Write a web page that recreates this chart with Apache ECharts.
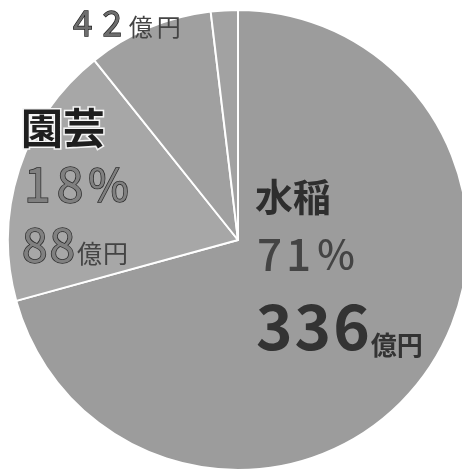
<!DOCTYPE html>
<html>
<head>
<meta charset="utf-8">
<script src="https://cdn.jsdelivr.net/npm/echarts@6/dist/echarts.min.js"></script>
<style>
  html, body { margin: 0; padding: 0; background: #fff; }
  #chart { width: 462px; height: 473px; }
</style>
</head>
<body>
<div id="chart"></div>
<script>
// 産出額の内訳（億円）
const categories = ['水稲', '園芸', '畜産', 'その他'];
const values = [336, 88, 42, 9];
const sharePct = [71, 18, null, null];   // 表示する構成比（%）
const showLabel = [true, true, true, false];
const showName = [true, true, false, false];

const sliceColors = ['#9c9c9c', '#a7a7a7', '#a0a0a0', '#a2a2a2'];

// ラベルの配置（左上の座標）
const labelPos = [
  { x: 255, y: 172 },
  { x: 21, y: 102 },
  { x: 68, y: 3 }
];

const FONT = '"Noto Sans CJK JP", "Noto Sans", sans-serif';

function spaced(str, style) {
  return str.split('').map(c => '{' + style + '|' + c + '}').join('');
}

const data = categories.map((name, i) => {
  let fmt = '';
  if (showLabel[i]) {
    const parts = [];
    if (showName[i]) parts.push('{n' + i + '|' + name + '}');
    if (sharePct[i] != null) parts.push(spaced(String(sharePct[i]), 'p' + i) + '{pp' + i + '|%}');
    parts.push(spaced(String(values[i]), 'v' + i) + spaced('億円', 'u' + i));
    fmt = parts.join('\n');
  }
  return {
    name: name,
    value: values[i],
    itemStyle: { color: sliceColors[i] },
    label: { show: showLabel[i], formatter: fmt }
  };
});

const rich = {
  // 水稲
  n0: { fontSize: 38, fontWeight: 'bold', color: '#2e2e2e', lineHeight: 50, fontFamily: FONT },
  p0: { fontSize: 44, fontWeight: 500, color: '#444', lineHeight: 64, padding: [0, 2, 0, 2], fontFamily: FONT },
  pp0: { fontSize: 40, fontWeight: 500, color: '#444', lineHeight: 64, padding: [0, 0, 0, 4], fontFamily: FONT },
  v0: { fontSize: 62, fontWeight: 'bold', color: '#333', lineHeight: 80, padding: [0, 1, 0, 1], fontFamily: FONT },
  u0: { fontSize: 26, fontWeight: 'bold', color: '#333', lineHeight: 80, verticalAlign: 'bottom', padding: [0, 0, 8, 0], fontFamily: FONT },
  // 園芸
  n1: { fontSize: 42, fontWeight: 'bold', color: '#1e1e1e', lineHeight: 52, fontFamily: FONT,
        textBorderColor: '#f4f4f4', textBorderWidth: 3 },
  p1: { fontSize: 48, color: '#808080', lineHeight: 60, padding: [0, 3, 0, 3], fontFamily: FONT,
        textBorderColor: '#2e2e2e', textBorderWidth: 1.5 },
  pp1: { fontSize: 44, color: '#808080', lineHeight: 60, padding: [0, 0, 0, 2], fontFamily: FONT,
        textBorderColor: '#2e2e2e', textBorderWidth: 1.5 },
  v1: { fontSize: 46, color: '#808080', lineHeight: 62, padding: [0, 1, 0, 1], fontFamily: FONT,
        textBorderColor: '#2e2e2e', textBorderWidth: 1.5 },
  u1: { fontSize: 25, color: '#444', lineHeight: 62, verticalAlign: 'bottom', padding: [0, 0, 10, 1], fontFamily: FONT },
  // 畜産
  v2: { fontSize: 35, color: '#6e6e6e', lineHeight: 40, padding: [0, 5, 0, 5], fontFamily: FONT,
        textBorderColor: '#1e1e1e', textBorderWidth: 1.3 },
  u2: { fontSize: 24, color: '#444', lineHeight: 40, verticalAlign: 'bottom', padding: [0, 2, 4, 2], fontFamily: FONT }
};

const chart = echarts.init(document.getElementById('chart'), null, { renderer: 'canvas' });
chart.setOption({
  backgroundColor: '#fff',
  animation: false,
  series: [{
    type: 'pie',
    center: [238, 240],
    radius: [0, 230],
    startAngle: 90,
    clockwise: true,
    data: data,
    itemStyle: { borderColor: '#ffffff', borderWidth: 2 },
    label: {
      position: 'inside',
      align: 'left',
      rich: rich
    },
    labelLine: { show: false },
    labelLayout: function (params) {
      const p = labelPos[params.dataIndex];
      if (!p) return {};
      return { x: p.x, y: p.y, align: 'left', verticalAlign: 'top' };
    },
    emphasis: { disabled: true }
  }]
});
</script>
</body>
</html>
